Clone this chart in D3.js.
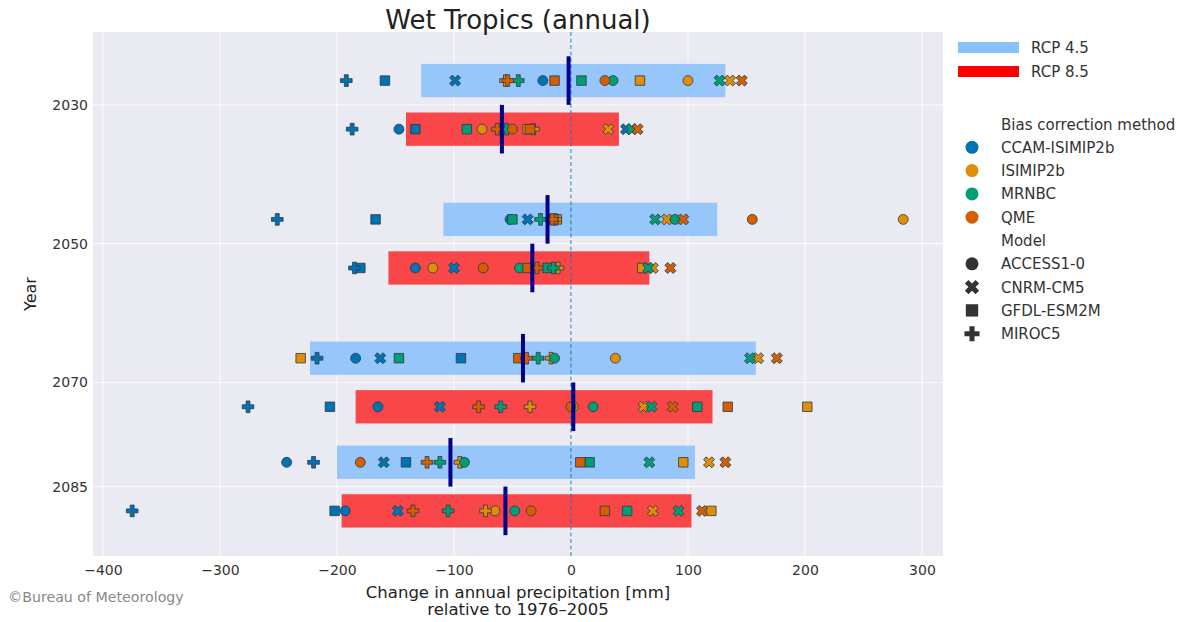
<!DOCTYPE html>
<html>
<head>
<meta charset="utf-8">
<script src="https://cdn.jsdelivr.net/npm/d3@7"></script>
<style>
  body { margin: 0; background: #fff; }
  svg { font-family: 'DejaVu Sans', sans-serif; }
</style>
</head>
<body>
<div class="canvas"></div>
<script>
const years = [2030, 2050, 2070, 2085];
const scenarios = ['RCP 4.5', 'RCP 8.5'];
const methods = ['CCAM-ISIMIP2b', 'ISIMIP2b', 'MRNBC', 'QME'];
const models = ['ACCESS1-0', 'CNRM-CM5', 'GFDL-ESM2M', 'MIROC5'];
const xTicks = [-400, -300, -200, -100, 0, 100, 200, 300];

// bar range and median per year
const low45 = [-128, -109, -223, -200];
const high45 = [132, 125, 158, 106];
const median45 = [-2, -20, -41, -103];
const low85 = [-141, -156, -184, -196];
const high85 = [41, 67, 121, 103];
const median85 = [-59, -33, 2, -56];

// per year: [ACCESS1-0, CNRM-CM5, GFDL-ESM2M, MIROC5]
const ccam45 = [[-24, -99, -159, -192], [-52, -37, -167, -251], [-184, -163, -94, -217], [-243, -160, -141, -220]];
const isimip45 = [[100, 136, 59, -56], [284, 82, -12, -13], [38, 160, -231, -17], [-93, 118, 96, -95]];
const mrnbc45 = [[36, 127, 9, -45], [89, 72, -50, -26], [-14, 153, -147, -28], [-91, 67, 16, -112]];
const qme45 = [[29, 146, -14, -54], [155, 96, -15, -16], [-42, 176, -45, -38], [-180, 132, 8, -123]];
const ccam85 = [[-147, 47, -133, -187], [-133, -100, -180, -185], [-165, -112, -206, -276], [-193, -148, -202, -375]];
const isimip85 = [[-76, 32, -37, -32], [-118, 70, 61, -11], [2, 62, 202, -35], [-65, 70, 120, -73]];
const mrnbc85 = [[-57, 52, -89, -55], [-44, 66, -20, -15], [19, 69, 108, -60], [-48, 92, 48, -105]];
const qme85 = [[-50, 57, -35, -63], [-75, 85, -37, -29], [0, 87, 134, -79], [-34, 112, 29, -135]];

const dims = { width: 1188, height: 622 };
const plot = { left: 93, right: 943, top: 32, bottom: 556 };

const svg = d3
  .select('.canvas')
  .append('svg')
  .attr('width', dims.width)
  .attr('height', dims.height);

const x = d3.scaleLinear().domain([-408.5, 318]).range([plot.left, plot.right]);
const y = d3.scaleLinear().domain([2019.5, 2095]).range([plot.top, plot.bottom]);

const methodColor = d3
  .scaleOrdinal()
  .domain(methods)
  .range(['#0173b2', '#de8f05', '#029e73', '#d55e00']);

const crossPath = d3.symbol().type(d3.symbolCross).size(75)();
const modelShape = {
  'ACCESS1-0': d3.symbol().type(d3.symbolCircle).size(78)(),
  'CNRM-CM5': crossPath,
  'GFDL-ESM2M': d3.symbol().type(d3.symbolSquare).size(90)(),
  MIROC5: crossPath,
};
const modelRotate = { 'ACCESS1-0': 0, 'CNRM-CM5': 45, 'GFDL-ESM2M': 0, MIROC5: 0 };

const offset = 3.5;
const barHalf = 2.4;

const rows = [];
years.forEach((yr, i) => {
  rows.push({ year: yr, scen: scenarios[0], pos: yr - offset, low: low45[i], high: high45[i], median: median45[i],
    values: [ccam45[i], isimip45[i], mrnbc45[i], qme45[i]] });
  rows.push({ year: yr, scen: scenarios[1], pos: yr + offset, low: low85[i], high: high85[i], median: median85[i],
    values: [ccam85[i], isimip85[i], mrnbc85[i], qme85[i]] });
});

const barColor = { 'RCP 4.5': '#97c6fa', 'RCP 8.5': '#f94649' };
const legendColor = { 'RCP 4.5': '#86c1fc', 'RCP 8.5': '#ff0000' };

svg
  .append('rect')
  .attr('x', plot.left)
  .attr('y', plot.top)
  .attr('width', plot.right - plot.left)
  .attr('height', plot.bottom - plot.top)
  .attr('fill', '#eaeaf2');

const grid = svg.append('g').attr('stroke', '#fff').attr('stroke-opacity', 0.75).attr('stroke-width', 1.2);
grid
  .selectAll('.vgrid')
  .data(xTicks)
  .enter()
  .append('line')
  .attr('x1', (d) => x(d))
  .attr('x2', (d) => x(d))
  .attr('y1', plot.top)
  .attr('y2', plot.bottom);
grid
  .selectAll('.hgrid')
  .data(years)
  .enter()
  .append('line')
  .attr('x1', plot.left)
  .attr('x2', plot.right)
  .attr('y1', (d) => y(d))
  .attr('y2', (d) => y(d));

svg
  .append('g')
  .selectAll('rect')
  .data(rows)
  .enter()
  .append('rect')
  .attr('x', (d) => x(d.low))
  .attr('width', (d) => x(d.high) - x(d.low))
  .attr('y', (d) => y(d.pos - barHalf))
  .attr('height', (d) => y(d.pos + barHalf) - y(d.pos - barHalf))
  .attr('fill', (d) => barColor[d.scen]);

svg
  .append('line')
  .attr('x1', x(0))
  .attr('x2', x(0))
  .attr('y1', plot.top)
  .attr('y2', plot.bottom)
  .attr('stroke', '#1f77b4')
  .attr('stroke-width', 1)
  .attr('stroke-dasharray', '4,2.5');

const points = [];
rows.forEach((r) => {
  r.values.forEach((vals, mi) => {
    vals.forEach((v, k) => {
      points.push({ value: v, pos: r.pos, method: methods[mi], model: models[k] });
    });
  });
});

svg
  .append('g')
  .selectAll('path')
  .data(points)
  .enter()
  .append('path')
  .attr('d', (d) => modelShape[d.model])
  .attr('transform', (d) => `translate(${x(d.value)}, ${y(d.pos)}) rotate(${modelRotate[d.model]})`)
  .attr('fill', (d) => methodColor(d.method))
  .attr('stroke', '#2b3a4a')
  .attr('stroke-width', 0.8);

svg
  .append('g')
  .selectAll('line')
  .data(rows)
  .enter()
  .append('line')
  .attr('x1', (d) => x(d.median))
  .attr('x2', (d) => x(d.median))
  .attr('y1', (d) => y(d.pos - offset))
  .attr('y2', (d) => y(d.pos + offset))
  .attr('stroke', '#00008b')
  .attr('stroke-width', 4);

// axes
const xAxis = svg
  .append('g')
  .attr('transform', `translate(0, ${plot.bottom})`)
  .call(d3.axisBottom(x).tickValues(xTicks).tickSize(0).tickPadding(9).tickFormat((d) => (d < 0 ? '\u2212' + Math.abs(d) : d)));
xAxis.select('.domain').remove();
xAxis.selectAll('text').attr('font-size', 14).attr('fill', '#333').attr('font-family', 'DejaVu Sans, sans-serif');

const yAxis = svg
  .append('g')
  .attr('transform', `translate(${plot.left}, 0)`)
  .call(d3.axisLeft(y).tickValues(years).tickSize(0).tickPadding(5).tickFormat(d3.format('d')));
yAxis.select('.domain').remove();
yAxis.selectAll('text').attr('font-size', 14).attr('fill', '#333').attr('font-family', 'DejaVu Sans, sans-serif');

svg
  .append('text')
  .attr('x', (plot.left + plot.right) / 2)
  .attr('y', 29)
  .attr('text-anchor', 'middle')
  .attr('font-size', 26)
  .attr('fill', '#222')
  .text('Wet Tropics (annual)');

svg
  .append('text')
  .attr('x', (plot.left + plot.right) / 2)
  .attr('y', 598)
  .attr('text-anchor', 'middle')
  .attr('font-size', 16.5)
  .attr('fill', '#222')
  .text('Change in annual precipitation [mm]');
svg
  .append('text')
  .attr('x', (plot.left + plot.right) / 2)
  .attr('y', 615)
  .attr('text-anchor', 'middle')
  .attr('font-size', 16.5)
  .attr('fill', '#222')
  .text('relative to 1976\u20132005');

svg
  .append('text')
  .attr('transform', `translate(36, ${(plot.top + plot.bottom) / 2}) rotate(-90)`)
  .attr('text-anchor', 'middle')
  .attr('font-size', 16)
  .attr('fill', '#222')
  .text('Year');

svg
  .append('text')
  .attr('x', 8)
  .attr('y', 602)
  .attr('font-size', 14.2)
  .attr('fill', '#888')
  .text('\u00a9Bureau of Meteorology');

// legend
const legendGroup = svg.append('g').attr('transform', 'translate(958, 0)');

const scenItems = legendGroup
  .selectAll('.scen-item')
  .data(scenarios)
  .enter()
  .append('g')
  .attr('class', 'scen-item')
  .attr('transform', (d, i) => `translate(0, ${42 + i * 24})`);
scenItems
  .append('rect')
  .attr('width', 61)
  .attr('height', 11)
  .attr('fill', (d) => legendColor[d]);
scenItems
  .append('text')
  .attr('x', 73)
  .attr('y', 10.5)
  .attr('font-size', 15)
  .attr('fill', '#333')
  .text((d) => d);

const markerItems = [{ label: 'Bias correction method' }]
  .concat(methods.map((m) => ({ label: m, color: methodColor(m), shape: modelShape['ACCESS1-0'], rot: 0 })))
  .concat([{ label: 'Model' }])
  .concat(models.map((m) => ({ label: m, color: '#333', shape: modelShape[m], rot: modelRotate[m] })));

const mItems = legendGroup
  .selectAll('.marker-item')
  .data(markerItems)
  .enter()
  .append('g')
  .attr('class', 'marker-item')
  .attr('transform', (d, i) => `translate(0, ${124 + i * 23.3})`);
mItems
  .filter((d) => d.shape)
  .append('path')
  .attr('d', (d) => d.shape)
  .attr('transform', (d) => `translate(14, 0) rotate(${d.rot}) scale(1.3)`)
  .attr('fill', (d) => d.color);
mItems
  .append('text')
  .attr('x', 43)
  .attr('y', 5.5)
  .attr('font-size', 15)
  .attr('fill', '#333')
  .text((d) => d.label);
</script>
</body>
</html>
